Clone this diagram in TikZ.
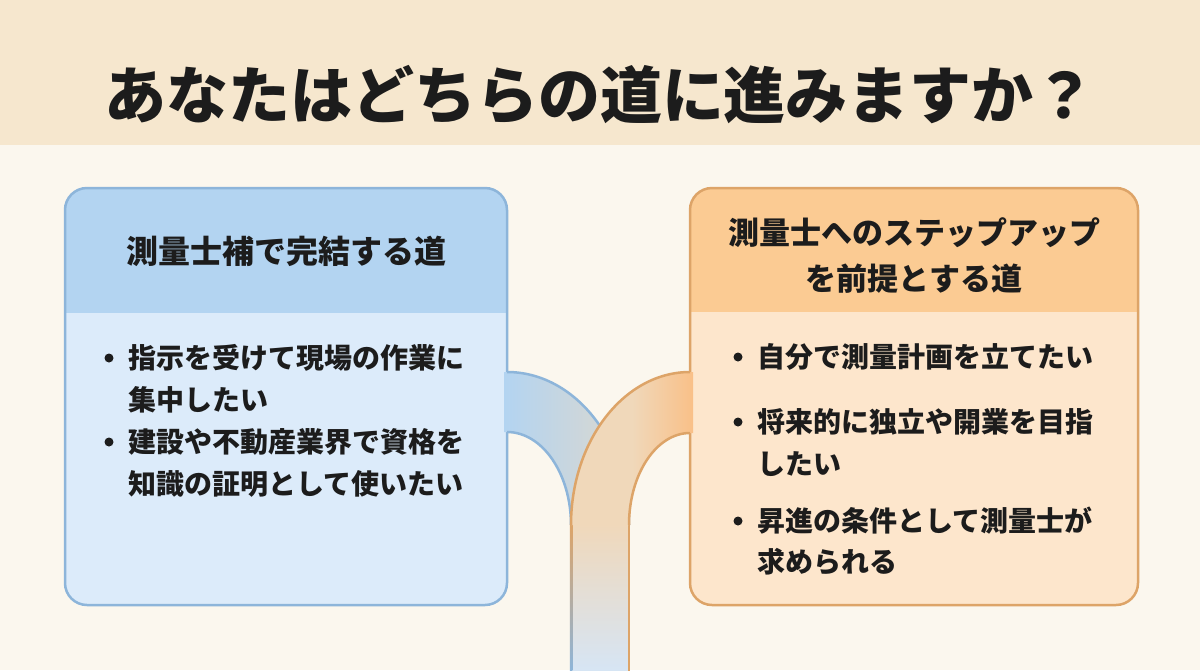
\documentclass[tikz,border=0pt]{standalone}
\usepackage{fontspec}
\newfontfamily\cjk{Noto Sans CJK JP}
\definecolor{band}{HTML}{F6E7CE}
\definecolor{bg}{HTML}{FBF7EE}
\definecolor{lhead}{HTML}{B3D4F1}
\definecolor{lbody}{HTML}{DCEBFA}
\definecolor{lborder}{HTML}{8DB5DA}
\definecolor{rhead}{HTML}{FBCB93}
\definecolor{rbody}{HTML}{FDE6CC}
\definecolor{rborder}{HTML}{DDA468}
\definecolor{ink}{HTML}{1C1C1C}
\definecolor{armbeige}{RGB}{240,216,186}
\definecolor{armorange}{RGB}{249,192,136}
\definecolor{armgray}{RGB}{220,216,206}
\definecolor{stembottom}{RGB}{214,229,245}
\pgfdeclarehorizontalshading{orangearm}{100bp}{color(0bp)=(armbeige); color(50bp)=(armbeige); color(75bp)=(armorange); color(100bp)=(armorange)}
\tikzset{
  boxline/.style={line width=2.5pt, rounded corners=22pt},
  roadline/.style={line width=2.5pt},
  headtext/.style={font=\cjk\bfseries\fontsize{32}{46}\selectfont, text=ink, align=center, inner sep=0pt},
  itemtext/.style={font=\cjk\bfseries\fontsize{28}{34}\selectfont, text=ink, anchor=west, inner sep=0pt},
  dotmark/.style={fill=ink},
}
\begin{document}
\begin{tikzpicture}[x=1pt,y=-1pt]
\useasboundingbox (0,0) rectangle (1200,670);
\fill[bg] (0,0) rectangle (1200,670);
\fill[band] (0,0) rectangle (1200,145);
\node[font=\cjk\bfseries\fontsize{62}{70}\selectfont, text=ink, inner sep=0pt] (title) at (600,95) {あなたはどちらの道に進みますか？};

% left box
\fill[lbody, rounded corners=22pt] (65,188) rectangle (507,605);
\begin{scope}
\clip[rounded corners=22pt] (65,188) rectangle (507,605);
\fill[lhead] (65,188) rectangle (507,313);
\end{scope}
\draw[lborder, boxline] (65,188) rectangle (507,605);

% right box
\fill[rbody, rounded corners=22pt] (690,188) rectangle (1138,605);
\begin{scope}
\clip[rounded corners=22pt] (690,188) rectangle (1138,605);
\fill[rhead] (690,188) rectangle (1138,312);
\end{scope}
\draw[rborder, boxline] (690,188) rectangle (1138,605);

% blue road (centre 507,525)
\shade[left color=lhead, right color=armgray]
  (504,372) -- (507,372) arc[start angle=-90, end angle=0, x radius=122, y radius=153] -- (571,525)
  arc[start angle=0, end angle=-90, x radius=64, y radius=93] -- (504,432) -- cycle;
\draw[lborder, roadline] (507,372) arc[start angle=-90, end angle=0, x radius=122, y radius=153];
\draw[lborder, roadline] (507,432) arc[start angle=-90, end angle=0, x radius=64, y radius=93];

% stem
\shade[top color=armbeige, bottom color=stembottom] (571,524) rectangle (629,672);
\shade[top color=rborder, bottom color=lborder] (569.75,524) rectangle (572.25,672);
\draw[rborder, roadline] (629,524) -- (629,672);

% orange road (centre 690,525)
\shade[shading=orangearm]
  (693,372) -- (690,372) arc[start angle=-90, end angle=-180, x radius=119, y radius=153] -- (629,525)
  arc[start angle=-180, end angle=-90, x radius=61, y radius=92] -- (693,433) -- cycle;
\draw[rborder, roadline] (690,372) arc[start angle=-90, end angle=-180, x radius=119, y radius=153];
\draw[rborder, roadline] (690,433) arc[start angle=-90, end angle=-180, x radius=61, y radius=92];

% headers
\node[headtext] (lh) at (286,251) {測量士補で完結する道};
\node[headtext, font=\cjk\bfseries\fontsize{31}{46}\selectfont] (rh) at (914,256) {測量士へのステップアップ\\を前提とする道};

% left items
\fill[dotmark] (109,358) circle[radius=4.5];
\node[itemtext] (l1) at (128,358) {指示を受けて現場の作業に};
\node[itemtext] (l2) at (128,400) {集中したい};
\fill[dotmark] (109,442) circle[radius=4.5];
\node[itemtext] (l3) at (128,442) {建設や不動産業界で資格を};
\node[itemtext] (l4) at (128,484) {知識の証明として使いたい};

% right items
\fill[dotmark] (738,357) circle[radius=4.5];
\node[itemtext] (r1) at (757,357) {自分で測量計画を立てたい};
\fill[dotmark] (738,422) circle[radius=4.5];
\node[itemtext] (r2) at (757,422) {将来的に独立や開業を目指};
\node[itemtext] (r3) at (757,464) {したい};
\fill[dotmark] (738,521) circle[radius=4.5];
\node[itemtext] (r4) at (757,521) {昇進の条件として測量士が};
\node[itemtext] (r5) at (757,562) {求められる};
\end{tikzpicture}
\end{document}
